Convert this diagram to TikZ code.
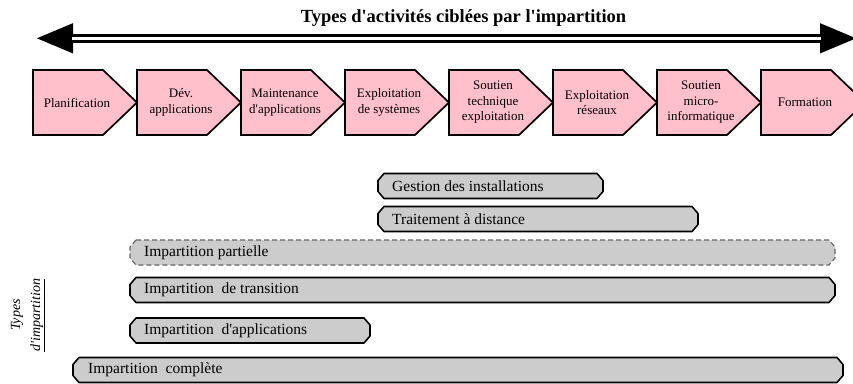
\documentclass[tikz,border=0pt]{standalone}
\usepackage{fontspec}
\newfontfamily\tnr{Liberation Serif}
\usepackage{tikz}
\usetikzlibrary{arrows.meta}
\definecolor{rose}{RGB}{255,192,203}
\def\activite(#1){\draw[line width=0.6mm, fill=rose] (#1,70) -- ++(70,0) -- ++(34,32.5) -- ++(-34,32.5) -- ++(-70,0) -- cycle;}
\def\impbar[#1](#2:#3:#4){\draw[#1] (#2+6,#4) -- (#3-6,#4) -- (#3,#4+7) -- (#3,#4+18) -- (#3-6,#4+25) -- (#2+6,#4+25) -- (#2,#4+18) -- (#2,#4+7) -- cycle;}

\begin{document}
\begin{tikzpicture}[x=1pt, y=-1pt,
    activtxt/.style={font=\tnr\fontsize{13}{15.5}\selectfont, align=center, inner sep=0pt},
    bartxt/.style={font=\tnr\fontsize{15.5}{18}\selectfont, anchor=west, inner sep=0pt},
    barre/.style={line width=0.55mm, fill=black!20, line join=round},
    barrept/.style={line width=0.4mm, draw=black!60, fill=black!20, dash pattern=on 5pt off 3pt, line join=round}]
			%%%%% START %%%%%
			\useasboundingbox (0,0) rectangle (853,383);
			
			\node[font=\tnr\bfseries\fontsize{18.5}{22}\selectfont, anchor=base] (titre) at (463.5,22.5) {Types d'activités ciblées par l'impartition};
			
			\coordinate (gauche) at (35,38.3);
			\coordinate (droite) at (858,38.3);
			\draw[line width=9.5pt, {Triangle[length=38pt,width=27pt]}-{Triangle[length=38pt,width=27pt]}] (gauche) -- (droite);
			\draw[white, line width=3pt] ([xshift=37pt]gauche) -- ([xshift=-37pt]droite);
			
			\activite(33)
			\node[activtxt] (planif) at (77,102.5) {Planification};
			\activite(137)
			\node[activtxt] (dev) at (181,102.5) {Dév.\\applications};
			\activite(241)
			\node[activtxt] (maint) at (285,102.5) {Maintenance\\d'applications};
			\activite(345)
			\node[activtxt] (exsys) at (389,102.5) {Exploitation\\de systèmes};
			\activite(449)
			\node[activtxt] (soutech) at (493,102.5) {Soutien\\technique\\exploitation};
			\activite(553)
			\node[activtxt] (exres) at (597,102.5) {Exploitation\\réseaux};
			\activite(657)
			\node[activtxt] (soumicro) at (701,102.5) {Soutien\\micro-\\informatique};
			\activite(761)
			\node[activtxt] (form) at (805,102.5) {Formation};
			
			\impbar[barre](378:603:173.5)
			\node[bartxt] (gestion) at (392,186) {Gestion des installations};
			\impbar[barre](378:698:206.5)
			\node[bartxt] (distance) at (392,219) {Traitement à distance};
			\impbar[barrept](130:835:240)
			\node[bartxt] (partielle) at (144,252.5) {Impartition partielle};
			\impbar[barre](130:835:277.5)
			\node[bartxt] (transition) at (144,290) {Impartition~~de transition};
			\impbar[barre](130:370:318)
			\node[bartxt] (applic) at (144,330.5) {Impartition~~d'applications};
			\impbar[barre](73:843:357.5)
			\node[bartxt] (complete) at (88,370) {Impartition~~complète};
			
			\node[rotate=90, font=\tnr\itshape\fontsize{14}{20}\selectfont, align=center] (types) at (28,315) {Types\\\underline{d'impartition}};
			
			%%%%% END %%%%%
\end{tikzpicture}
\end{document}
